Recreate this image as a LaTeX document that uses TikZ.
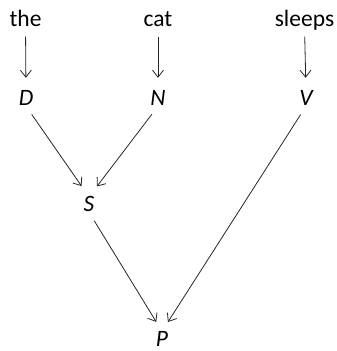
\documentclass[tikz,border=0pt]{standalone}
\usepackage{fontspec}
\setmainfont{Carlito}
\usetikzlibrary{arrows.meta}
\begin{document}
\begin{tikzpicture}[x=1pt,y=1pt,
  word/.style={font=\fontsize{23.5}{27}\selectfont, text height=15pt, text depth=0pt, inner sep=0pt, anchor=base},
  cat/.style={word, font=\fontsize{23.5}{27}\selectfont\itshape},
  arr/.style={-{Straight Barb[length=7pt,width=11pt]}, line width=0.8pt, draw=black!85, shorten <=10pt, shorten >=13pt}]
\useasboundingbox (0,0) rectangle (337,351);
\node[word] (the) at (25.5,324.5) {the};
\node[word] (catw) at (158,324.5) {cat};
\node[word] (sleeps) at (304.5,324.5) {sleeps};
\node[cat] (D) at (26,245) {D};
\node[cat] (N) at (158,245) {N};
\node[cat] (V) at (306,245) {V};
\node[cat] (S) at (89,139) {S};
\node[cat] (P) at (162,4.5) {P};
\draw[arr] (the.south) -- (D.north);
\draw[arr] (catw.south) -- (N.north);
\draw[arr] (sleeps.south) -- (V.north);
\draw[arr] (D.south) -- (S.north);
\draw[arr] (N.south) -- (S.north);
\draw[arr, shorten >=11pt] (S.south) -- (P.north);
\draw[arr, shorten >=11pt] (V.south) -- (P.north);
\end{tikzpicture}
\end{document}
